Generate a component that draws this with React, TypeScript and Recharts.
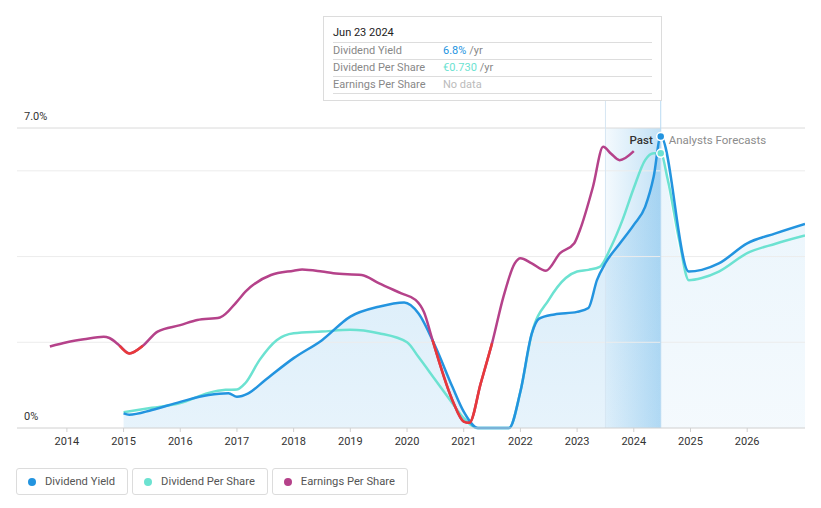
import {
  Area,
  ComposedChart,
  Line,
  ReferenceArea,
  ReferenceDot,
  ReferenceLine,
  XAxis,
  YAxis,
} from "recharts";

// Values (percent of the 0–7% axis scale).
const DY_YEARS = [
  2015.0, 2015.1, 2015.5, 2016.0, 2016.5, 2016.85, 2017.0, 2017.2, 2017.5, 2018.0, 2018.5,
  2019.0, 2019.5, 2019.95, 2020.2, 2020.5, 2020.8, 2021.0, 2021.25, 2021.8, 2022.0, 2022.2,
  2022.33, 2022.6, 2023.0, 2023.2, 2023.35, 2023.5, 2023.75, 2024.0, 2024.2, 2024.35, 2024.475,
];
const DY_VALUES = [
  0.34, 0.31, 0.42, 0.61, 0.77, 0.81, 0.73, 0.81, 1.12, 1.63, 2.05,
  2.6, 2.83, 2.93, 2.68, 1.9, 0.96, 0.38, 0, 0, 0.85, 2.2,
  2.55, 2.65, 2.71, 2.8, 3.45, 3.85, 4.3, 4.74, 5.16, 5.86, 6.8,
];
const DY_FC_YEARS = [2024.475, 2024.97, 2025.2, 2025.5, 2026.0, 2026.5, 2027.02];
const DY_FC_VALUES = [6.8, 3.65, 3.69, 3.84, 4.31, 4.54, 4.76];

const DPS_YEARS = [
  2015.0, 2015.5, 2016.0, 2016.5, 2016.8, 2017.0, 2017.15, 2017.4, 2017.7, 2018.0, 2018.5,
  2019.0, 2019.5, 2020.0, 2020.2, 2020.5, 2020.8, 2021.0, 2021.25, 2021.8, 2022.0, 2022.2,
  2022.5, 2022.8, 2023.0, 2023.2, 2023.4, 2023.6, 2023.8, 2024.0, 2024.2, 2024.35, 2024.475,
  2024.6, 2024.8, 2024.97, 2025.2, 2025.5, 2026.0, 2026.5, 2027.02,
];
const DPS_VALUES = [
  0.37, 0.47, 0.58, 0.82, 0.89, 0.9, 1.05, 1.59, 2.05, 2.21, 2.25,
  2.29, 2.21, 2.0, 1.66, 1.12, 0.58, 0.23, 0, 0, 0.85, 2.2,
  2.99, 3.5, 3.65, 3.69, 3.76, 4.23, 4.85, 5.6, 6.25, 6.41, 6.41,
  5.79, 4.39, 3.45, 3.5, 3.65, 4.08, 4.3, 4.49,
];

const EPS_YEARS = [
  2013.7, 2014.0, 2014.3, 2014.65, 2014.75, 2014.93, 2015.1, 2015.34, 2015.6, 2016.0, 2016.3,
  2016.7, 2017.0, 2017.15, 2017.6, 2018.0, 2018.15, 2018.5, 2018.7, 2019.2, 2019.5, 2019.9,
  2020.15, 2020.3, 2020.45, 2020.8, 2021.0, 2021.1, 2021.3, 2021.5, 2021.7, 2021.9, 2022.0,
  2022.2, 2022.45, 2022.7, 2022.95, 2023.05, 2023.28, 2023.46, 2023.6, 2023.75, 2024.0,
];
const EPS_VALUES = [
  1.9, 2.0, 2.07, 2.13, 2.1, 1.92, 1.74, 1.92, 2.25, 2.4, 2.52,
  2.58, 2.95, 3.18, 3.57, 3.67, 3.7, 3.65, 3.61, 3.57, 3.38, 3.14,
  2.99, 2.7, 2.05, 0.65, 0.15, 0.12, 1.04, 1.98, 3.06, 3.84, 3.96,
  3.84, 3.67, 4.08, 4.31, 4.62, 5.63, 6.56, 6.4, 6.25, 6.46,
];
// stretches where the earnings line turns red
const EPS_RED_RANGES = [
  [2014.93, 2015.34],
  [2020.45, 2021.5],
];

const YEAR_TICKS = [2014, 2015, 2016, 2017, 2018, 2019, 2020, 2021, 2022, 2023, 2024, 2025, 2026];
const Y_LABELS = [
  { v: 0, text: "0%" },
  { v: 7, text: "7.0%" },
];
const GRID_VALUES = [2, 4, 6];

const HOVER_X = 2024.475;
const PAST_START = 2023.5;

const BLUE = "#2394df";
const TEAL = "#6ce2d1";
const MAGENTA = "#b5428a";
const RED = "#e8393a";
const FONT = "Roboto, sans-serif";

const pts = (xs: number[], vs: number[]) => xs.map((x, i) => ({ x, v: vs[i] }));

const dyPast = pts(DY_YEARS, DY_VALUES);
const dyForecast = pts(DY_FC_YEARS, DY_FC_VALUES);
const dyAll = [...dyPast, ...dyForecast.slice(1)];
const dps = pts(DPS_YEARS, DPS_VALUES);
const eps = pts(EPS_YEARS, EPS_VALUES);
const epsRed = EPS_RED_RANGES.map(([a, b]) => eps.filter((p) => p.x >= a && p.x <= b));

function yLabel(text: string) {
  return function YLabel(props: any) {
    const { viewBox } = props;
    return (
      <text x={viewBox.x + 7} y={viewBox.y - 8} fill="#333" fontSize={11} fontFamily={FONT}>
        {text}
      </text>
    );
  };
}

function PastLabel(props: any) {
  const { viewBox } = props;
  const x = viewBox.x;
  const y = viewBox.y + 43;
  return (
    <g fontFamily={FONT} fontSize={11.5}>
      <text x={x - 8} y={y} textAnchor="end" fill="#333" fontWeight={500}>
        Past
      </text>
      <text x={x + 8} y={y} textAnchor="start" fill="#8c8c8c">
        Analysts Forecasts
      </text>
    </g>
  );
}

const LEGEND = [
  { name: "Dividend Yield", color: BLUE },
  { name: "Dividend Per Share", color: TEAL },
  { name: "Earnings Per Share", color: MAGENTA },
];

const TIP_ROWS = [
  { label: "Dividend Yield", value: "6.8%", color: BLUE, unit: "/yr" },
  { label: "Dividend Per Share", value: "€0.730", color: TEAL, unit: "/yr" },
  { label: "Earnings Per Share", value: "No data", color: "#bbb", unit: "" },
];

export default function App() {
  return (
    <div style={{ position: "absolute", left: 0, top: 0, width: 821, height: 508, fontFamily: FONT }}>
      <ComposedChart width={821} height={508} margin={{ top: 101, right: 16, bottom: 60, left: 17 }}>
        <defs>
          <linearGradient id="pastFill" x1="0" y1="0" x2="0" y2="1">
            <stop offset="0%" stopColor={BLUE} stopOpacity={0.2} />
            <stop offset="100%" stopColor={BLUE} stopOpacity={0.11} />
          </linearGradient>
          <linearGradient id="fcFill" x1="0" y1="0" x2="0" y2="1">
            <stop offset="0%" stopColor={BLUE} stopOpacity={0.1} />
            <stop offset="100%" stopColor={BLUE} stopOpacity={0.05} />
          </linearGradient>
          <linearGradient id="bandFill" x1="0" y1="0" x2="1" y2="0">
            <stop offset="0%" stopColor={BLUE} stopOpacity={0.05} />
            <stop offset="100%" stopColor={BLUE} stopOpacity={0.28} />
          </linearGradient>
        </defs>
        <XAxis
          type="number"
          dataKey="x"
          domain={[2013.12, 2027.02]}
          ticks={YEAR_TICKS}
          allowDataOverflow
          height={20}
          stroke="#d0d0d0"
          tickSize={4}
          tickMargin={5}
          tick={{ fill: "#333", fontSize: 11, fontFamily: FONT }}
        />
        <YAxis type="number" domain={[0, 7.63]} hide />
        {GRID_VALUES.map((v) => (
          <ReferenceLine key={v} y={v} stroke="#ececec" strokeWidth={1} />
        ))}
        {Y_LABELS.map((l) => (
          <ReferenceLine
            key={l.v}
            y={l.v}
            stroke={l.v === 0 ? "none" : "#dadada"}
            strokeWidth={1}
            label={yLabel(l.text)}
          />
        ))}
        <ReferenceArea x1={PAST_START} x2={HOVER_X} y1={0} y2={7} fill="url(#bandFill)" fillOpacity={1} stroke="none" />
        <ReferenceLine x={PAST_START} y1={0} y2={7} stroke="#d6e6f3" />
        <Area
          data={dyPast}
          dataKey="v"
          type="monotone"
          stroke="none"
          fill="url(#pastFill)"
          fillOpacity={1}
          isAnimationActive={false}
        />
        <Area
          data={dyForecast}
          dataKey="v"
          type="monotone"
          stroke="none"
          fill="url(#fcFill)"
          fillOpacity={1}
          isAnimationActive={false}
        />
        <ReferenceLine x={HOVER_X} stroke="#b9daf2" strokeWidth={1} label={<PastLabel />} />
        <Line
          data={dps}
          dataKey="v"
          type="monotone"
          stroke={TEAL}
          strokeWidth={2.5}
          dot={false}
          isAnimationActive={false}
        />
        <Line
          data={dyAll}
          dataKey="v"
          type="monotone"
          stroke={BLUE}
          strokeWidth={2.5}
          dot={false}
          isAnimationActive={false}
        />
        <Line
          data={eps}
          dataKey="v"
          type="monotone"
          stroke={MAGENTA}
          strokeWidth={2.5}
          dot={false}
          isAnimationActive={false}
        />
        {epsRed.map((seg, i) => (
          <Line
            key={i}
            data={seg}
            dataKey="v"
            type="monotone"
            stroke={RED}
            strokeWidth={2.5}
            dot={false}
            isAnimationActive={false}
          />
        ))}
        <ReferenceDot x={HOVER_X} y={6.8} r={4} fill={BLUE} stroke="#fff" strokeWidth={1.5} />
        <ReferenceDot x={HOVER_X} y={6.41} r={4} fill={TEAL} stroke="#fff" strokeWidth={1.5} />
      </ComposedChart>

      {/* hover tooltip */}
      <div
        style={{
          position: "absolute",
          left: 323,
          top: 16,
          width: 339,
          height: 85,
          border: "1px solid #dcdcdc",
          background: "#fff",
          boxSizing: "border-box",
          padding: "6px 9px 0 9px",
          fontSize: 11,
        }}
      >
        <div
          style={{
            color: "#222",
            height: 20,
            lineHeight: "19px",
            boxSizing: "border-box",
            borderBottom: "1px solid #ddd",
          }}
        >
          Jun 23 2024
        </div>
        {TIP_ROWS.map((r) => (
          <div
            key={r.label}
            style={{
              display: "flex",
              height: 17,
              lineHeight: "16px",
              boxSizing: "border-box",
              borderBottom: "1px solid #ddd",
            }}
          >
            <span style={{ width: 110, color: "#888" }}>{r.label}</span>
            <span style={{ color: r.color }}>{r.value}</span>
            <span style={{ color: "#888", marginLeft: 3 }}>{r.unit}</span>
          </div>
        ))}
      </div>

      {/* legend */}
      <div style={{ position: "absolute", left: 16, top: 468, display: "flex", gap: 4 }}>
        {LEGEND.map((l) => (
          <div
            key={l.name}
            style={{
              display: "flex",
              alignItems: "center",
              height: 27,
              boxSizing: "border-box",
              border: "1px solid #dcdcdc",
              borderRadius: 3,
              padding: "0 12px 0 11px",
              fontSize: 11.2,
              color: "#555",
            }}
          >
            <span
              style={{
                display: "inline-block",
                width: 8,
                height: 8,
                borderRadius: "50%",
                background: l.color,
                marginRight: 9,
              }}
            />
            {l.name}
          </div>
        ))}
      </div>
    </div>
  );
}
